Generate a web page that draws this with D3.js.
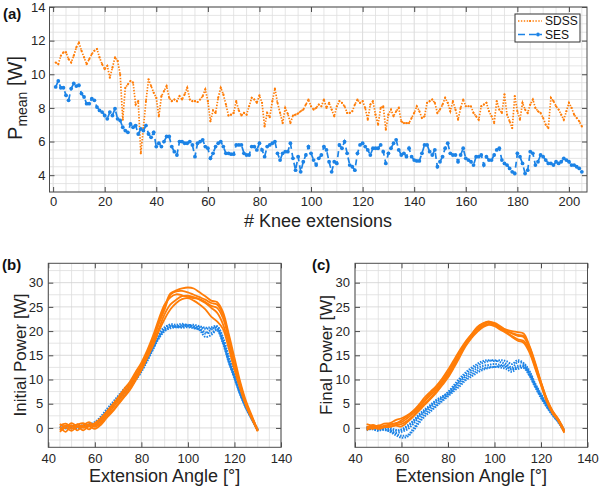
<!DOCTYPE html>
<html><head><meta charset="utf-8">
<script src="https://cdn.jsdelivr.net/npm/d3@7"></script>
<style>body{margin:0;background:#fff}svg{display:block;font-family:"Liberation Sans",Arial,sans-serif}</style>
</head><body><svg id="c" width="600" height="486"></svg>
<script>
// ---------- Panel (a) data ----------
const sdss = [10.7,10.6,11.1,11.3,11.3,10.9,10.7,11.1,11.6,11.9,11.4,11.0,10.6,10.9,11.2,11.4,11.5,11.0,10.6,10.3,
10.5,9.8,10.4,11.0,10.8,10.0,7.3,9.2,9.4,9.6,9.5,8.2,8.4,5.3,6.8,8.4,9.7,9.3,8.9,8.6,
7.5,8.7,9.0,9.3,8.6,8.4,8.5,8.4,8.7,8.5,8.8,9.2,8.5,8.4,8.4,8.35,8.5,8.7,9.1,8.4,
7.2,7.85,7.7,8.6,9.2,8.8,8.2,7.55,7.6,7.7,8.4,7.85,7.55,7.7,7.6,8.1,8.6,8.5,8.3,8.75,
8.3,6.9,7.7,7.45,8.4,9.15,8.3,7.7,7.1,8.0,7.65,7.1,7.55,7.6,7.67,7.8,7.9,8.2,8.5,8.1,
7.9,8.0,8.2,8.1,8.5,8.0,8.3,7.9,7.5,8.1,8.4,8.3,8.1,7.7,7.7,7.8,8.2,8.5,8.3,8.4,
8.0,7.3,8.2,8.4,7.6,7.0,8.0,8.1,6.7,7.6,7.9,7.5,7.8,8.0,7.2,7.1,7.1,7.1,7.4,7.7,
8.1,7.8,7.4,7.5,8.3,8.4,8.5,8.3,7.7,7.9,8.2,8.6,8.3,7.8,8.4,7.9,7.3,8.0,8.5,8.1,
8.1,8.1,7.7,7.5,7.3,8.1,8.2,8.3,7.8,7.5,7.1,8.4,7.9,7.7,8.8,7.6,7.2,6.8,8.7,7.8,
7.3,8.3,7.9,7.7,8.2,8.5,8.0,7.8,7.7,7.4,7.0,6.8,8.6,8.4,8.1,7.9,7.6,7.3,7.8,8.3,
8.0,7.6,7.4,7.2,6.9];
const ses = [9.25,9.6,9.2,9.2,8.75,8.45,9.15,9.45,9.3,9.35,8.85,8.65,8.25,8.25,8.55,8.45,8.05,7.85,7.75,7.55,
7.35,7.75,7.55,7.95,7.35,7.25,6.85,6.65,6.55,7.05,6.85,6.95,6.45,6.75,6.65,6.95,6.45,6.25,6.55,5.7,
5.9,5.7,6.0,6.3,6.3,5.7,5.4,5.2,6.0,6.0,5.9,5.9,6.0,5.8,5.1,5.9,6.0,6.1,5.7,5.6,
5.0,5.3,5.7,5.9,6.0,5.7,5.3,5.3,5.25,5.25,5.8,5.8,5.8,5.3,5.2,5.2,5.7,5.7,5.5,5.9,
5.5,5.1,5.7,5.8,5.9,6.0,5.3,4.9,5.3,5.4,5.4,5.9,5.0,4.3,5.1,4.2,4.8,5.2,5.7,5.3,
4.9,4.6,5.0,5.2,5.7,5.5,4.8,4.2,4.8,4.7,5.8,5.6,6.0,5.3,4.6,4.5,4.3,5.3,5.8,5.9,
5.7,5.5,5.2,5.6,5.6,5.6,5.8,5.4,4.7,5.3,5.6,5.9,6.1,5.5,5.2,5.3,5.1,5.6,5.1,4.9,
4.85,4.85,5.3,5.8,5.8,5.4,5.2,5.5,4.5,4.8,5.1,5.6,5.9,5.3,5.2,5.2,4.8,5.2,5.6,5.0,
4.9,4.8,4.6,5.1,5.1,5.2,4.6,5.1,4.9,4.9,5.2,5.5,5.6,4.9,4.7,4.6,4.4,4.2,4.1,5.3,
5.1,4.7,4.1,4.3,5.4,5.3,4.6,4.8,5.2,5.1,4.9,4.7,4.7,4.6,4.8,4.7,4.8,5.0,4.9,4.8,
4.6,4.6,4.5,4.4,4.2];
const aXTicks = [0,20,40,60,80,100,120,140,160,180,200];
const aYTicks = [4,6,8,10,12,14];
const legendLabels = ["SDSS","SES"];

// ---------- Panels (b),(c) data ----------
const angles = [45,47.5,50,52.5,55,57.5,60,62.5,65,67.5,70,72.5,75,77.5,80,82.5,85,87.5,90,92.5,95,97.5,100,102.5,105,107.5,110,112.5,115,117.5,120,122.5,125,127.5,130];
const initSDSS1 = [0.8,0.2,1.0,0.3,0.6,1.2,0.5,1.5,3.0,4.5,6.0,7.5,9.0,11.0,13.0,15.5,18.5,22,25,27.8,28.4,28.8,29.0,28.8,28.0,27.2,26.3,26.0,24.0,19.5,14.5,9.5,5.5,2.5,-0.5];
const initSDSS2 = [-0.5,0.5,-0.2,0.8,0.0,0.8,0.2,1.0,2.5,4.0,5.5,7.0,8.5,10.5,12.5,15.0,18.0,21.5,24.5,27.5,28.2,28.3,28.0,27.5,27.0,26.5,25.8,25.5,23.5,19.0,13.5,9.0,5.0,2.2,-0.6];
const initSDSS3 = [0.3,-0.8,0.6,-0.5,0.4,-0.3,0.8,1.3,2.3,3.5,5.0,6.5,8.0,10.0,12.0,14.5,17.5,20.5,23.5,25.5,26.5,27.2,27.3,27.0,26.5,25.8,24.8,23.8,21.5,17.5,12.5,8.5,4.8,2.0,-0.6];
const initSDSS4 = [-0.8,0.0,-0.6,0.2,-0.5,0.3,-0.2,0.6,2.0,3.3,4.8,6.3,7.8,9.8,12.0,14.5,17.0,20.0,22.5,24.5,25.8,26.6,26.8,26.3,25.5,24.5,23.0,22.0,20.5,16.5,12.0,8.0,4.5,1.8,-0.7];
const initSDSS5 = [0.5,0.9,0.2,0.7,1.0,0.4,1.0,2.0,3.3,4.8,6.3,8.0,9.5,11.5,13.5,16.0,19.0,22.5,25.5,27.0,27.6,27.4,27.0,26.8,26.6,26.0,25.2,24.8,22.8,18.5,13.5,8.8,5.0,2.2,-0.4];
const initSES1 = [0.0,0.2,0.1,0.3,0.5,0.6,0.9,1.8,3.2,4.6,6.0,7.3,8.6,10.2,12.0,14.2,16.5,18.8,20.3,21.0,21.0,21.2,21.3,21.0,20.8,20.5,20.5,20.6,18.0,14.0,10.5,7.0,4.2,1.8,-0.5];
const initSES2 = [0.3,0.0,0.4,0.2,0.6,0.8,1.2,2.3,3.8,5.2,6.6,8.0,9.2,10.8,12.5,14.8,17.2,19.5,20.8,21.2,20.8,21.0,21.0,20.7,20.3,19.5,20.3,20.9,18.5,14.5,11.0,7.2,4.3,1.9,-0.4];
const initSES3 = [-0.2,0.1,-0.1,0.1,0.3,0.4,0.6,1.5,2.8,4.2,5.6,7.0,8.3,9.8,11.6,13.8,16.2,18.5,20.0,20.6,20.8,20.7,20.8,20.6,20.2,18.8,19.2,20.2,17.5,13.6,10.2,6.8,4.0,1.7,-0.5];
const initSES4 = [0.1,0.3,0.2,0.5,0.4,0.7,1.0,2.0,3.5,5.0,6.3,7.6,8.9,10.5,12.3,14.5,16.8,19.0,20.6,21.4,21.3,21.5,21.2,21.3,21.0,20.7,20.8,21.0,18.8,14.8,11.2,7.4,4.4,2.0,-0.3];
const initSES5 = [0.2,-0.1,0.3,0.0,0.2,0.5,0.7,1.6,3.0,4.4,5.8,7.1,8.4,10.0,11.8,14.0,16.4,18.6,20.1,20.8,21.0,20.9,21.1,20.9,20.5,19.8,19.6,20.4,17.8,13.8,10.4,6.9,4.1,1.8,-0.5];
const finSDSS1 = [0.8,0.5,0.4,0.9,1.0,1.6,2.0,2.6,3.5,4.8,6.3,7.5,8.7,10.2,12.0,14.0,16.0,17.8,19.3,20.8,21.6,22.0,21.5,20.8,20.3,20.0,19.8,19.5,17.0,13.5,9.5,6.0,3.5,1.8,-0.5];
const finSDSS2 = [-0.3,0.3,0.0,0.5,0.6,1.0,1.2,2.0,3.0,4.2,5.5,6.8,8.0,9.5,11.2,13.2,15.3,17.3,19.0,20.4,21.3,21.8,21.7,21.0,20.2,19.5,19.0,18.8,16.5,13.0,9.2,5.8,3.3,1.6,-0.6];
const finSDSS3 = [0.3,-0.2,0.5,0.2,0.2,0.6,0.8,1.5,2.5,3.8,5.0,6.2,7.6,9.2,10.8,12.8,15.0,17.2,18.8,20.2,21.0,21.5,21.3,20.6,19.8,19.0,18.3,18.0,16.0,12.6,9.0,5.6,3.2,1.5,-0.8];
const finSDSS4 = [0.0,0.6,0.3,0.2,0.8,0.9,1.6,2.4,3.4,4.5,5.8,7.2,8.4,9.8,11.5,13.6,15.7,17.5,19.2,20.6,21.5,21.9,21.2,20.5,20.0,19.6,19.2,19.0,16.8,13.2,9.4,5.9,3.4,1.7,-0.6];
const finSDSS5 = [-0.5,0.1,-0.2,0.1,0.3,0.5,0.3,1.2,2.3,3.5,4.8,6.0,7.3,8.8,10.4,12.4,14.6,16.8,18.5,19.8,20.8,21.3,21.0,20.3,19.6,18.8,18.0,17.6,15.6,12.3,8.8,5.4,3.0,1.4,-1.0];
const finSES1 = [0.0,-0.3,-0.5,0.0,-0.3,-0.6,-0.3,0.5,1.5,2.8,3.8,4.8,5.8,6.5,7.3,8.5,9.8,11.0,12.0,12.8,13.4,13.8,14.0,13.6,13.2,12.5,13.6,13.2,11.5,9.0,6.8,4.8,3.0,1.5,-0.5];
const finSES2 = [-0.3,0.0,-0.2,-0.4,-0.7,-1.0,-0.8,-0.3,0.8,2.2,3.3,4.3,5.3,6.2,7.0,8.2,9.5,10.6,11.5,12.3,12.8,13.0,13.2,13.0,12.8,12.0,12.8,12.8,11.2,8.8,6.6,4.6,2.8,1.3,-0.6];
const finSES3 = [0.2,-0.1,0.0,-0.3,-0.5,-1.2,-1.6,-1.5,-0.2,1.5,2.8,3.8,4.8,5.8,6.8,7.9,9.0,10.2,11.0,11.8,12.3,12.5,12.6,12.5,12.2,11.6,12.5,12.6,11.0,8.6,6.4,4.4,2.7,1.2,-0.7];
const finSES4 = [-0.5,-0.2,-0.6,-0.3,-0.8,-1.5,-2.0,-1.8,-0.6,1.0,2.4,3.4,4.5,5.5,6.5,7.6,8.6,9.8,10.6,11.4,12.0,12.4,12.6,12.8,12.6,12.2,12.2,12.4,10.8,8.4,6.2,4.3,2.6,1.1,-0.8];
const finSES5 = [0.1,0.3,-0.1,0.2,0.0,-0.4,-0.5,0.2,1.2,2.5,3.6,4.6,5.6,6.4,7.4,8.8,10.2,11.4,12.4,13.2,13.8,14.0,13.8,14.0,13.8,13.2,14.0,13.4,11.8,9.2,7.0,5.0,3.2,1.6,-0.4];
const bcXTicks = [40,60,80,100,120,140];
const bcYTicks = [0,5,10,15,20,25,30];

const ORANGE = "#ff7d08", BLUE = "#1c83e6";
const GRID = "#dedede", GRIDMAJ = "#d2d2d2", AXC = "#4d4d4d", TXT = "#262626";
const svg = d3.select("#c");

function frame(g, x, y, xMinor, yMinor, xTicks, yTicks) {
  const [x0, x1] = x.range(), [y1, y0] = y.range();
  g.append("rect").attr("x", x0).attr("y", y0).attr("width", x1 - x0).attr("height", y1 - y0).attr("fill", "#fff");
  g.selectAll(".gx").data(xMinor).join("line").attr("x1", d => x(d)).attr("x2", d => x(d)).attr("y1", y0).attr("y2", y1)
    .attr("stroke", d => xTicks.includes(d) ? GRIDMAJ : GRID).attr("stroke-width", 0.8);
  g.selectAll(".gy").data(yMinor).join("line").attr("y1", d => y(d)).attr("y2", d => y(d)).attr("x1", x0).attr("x2", x1)
    .attr("stroke", d => yTicks.includes(d) ? GRIDMAJ : GRID).attr("stroke-width", 0.8);
}
function axes(g, x, y, xTicks, yTicks, padX, padY) {
  const [x0, x1] = x.range(), [y1, y0] = y.range();
  const style = a => { a.select(".domain").remove(); a.selectAll("line").attr("stroke", AXC);
    a.selectAll("text").attr("fill", TXT).attr("font-size", 13).attr("font-family", '"Liberation Sans",Arial,sans-serif'); };
  g.append("g").attr("transform", `translate(0,${y1})`).call(d3.axisBottom(x).tickValues(xTicks).tickSizeInner(-5).tickSizeOuter(0).tickPadding(padX)).call(style);
  g.append("g").attr("transform", `translate(0,${y0})`).call(d3.axisTop(x).tickValues(xTicks).tickSizeInner(-5).tickSizeOuter(0).tickFormat("")).call(style);
  g.append("g").attr("transform", `translate(${x0},0)`).call(d3.axisLeft(y).tickValues(yTicks).tickSizeInner(-5).tickSizeOuter(0).tickPadding(padY)).call(style);
  g.append("g").attr("transform", `translate(${x1},0)`).call(d3.axisRight(y).tickValues(yTicks).tickSizeInner(-5).tickSizeOuter(0).tickFormat("")).call(style);
  g.append("rect").attr("x", x0).attr("y", y0).attr("width", x1 - x0).attr("height", y1 - y0)
    .attr("fill", "none").attr("stroke", AXC).attr("stroke-width", 1);
}

// ---------- Panel (a) ----------
{
  const x = d3.scaleLinear().domain([-1.4, 207]).range([49.5, 587]);
  const y = d3.scaleLinear().domain([3, 14]).range([192, 7]);
  const g = svg.append("g");
  frame(g, x, y, d3.range(0, 206, 5), d3.range(3, 14.01, 0.5), aXTicks, aYTicks);
  g.append("clipPath").attr("id", "ca").append("rect").attr("x", 49.5).attr("y", 7).attr("width", 537.5).attr("height", 185);
  const line = d3.line().x((d, i) => x(i + 1)).y(d => y(d));
  const dg = g.append("g").attr("clip-path", "url(#ca)");
  dg.append("path").datum(sdss).attr("d", line).attr("fill", "none").attr("stroke", ORANGE).attr("stroke-width", 1.7).attr("stroke-dasharray", "1.4,1.5");
  dg.selectAll(".mo").data(sdss).join("circle").attr("cx", (d, i) => x(i + 1)).attr("cy", d => y(d)).attr("r", 1.1).attr("fill", ORANGE);
  dg.append("path").datum(ses).attr("d", line).attr("fill", "none").attr("stroke", BLUE).attr("stroke-width", 1.7).attr("stroke-dasharray", "6,4");
  dg.selectAll(".mb").data(ses).join("circle").attr("cx", (d, i) => x(i + 1)).attr("cy", d => y(d)).attr("r", 1.9).attr("fill", BLUE);
  axes(g, x, y, aXTicks, aYTicks, 5, 4);
  // legend
  const lg = g.append("g");
  lg.append("rect").attr("x", 515).attr("y", 14).attr("width", 65).attr("height", 28).attr("fill", "#fff").attr("stroke", "#333").attr("stroke-width", 1);
  lg.append("line").attr("x1", 518).attr("x2", 542).attr("y1", 21).attr("y2", 21).attr("stroke", ORANGE).attr("stroke-width", 1.7).attr("stroke-dasharray", "1.4,1.5");
  lg.append("circle").attr("cx", 530).attr("cy", 21).attr("r", 1.1).attr("fill", ORANGE);
  lg.append("line").attr("x1", 518).attr("x2", 542).attr("y1", 34.5).attr("y2", 34.5).attr("stroke", BLUE).attr("stroke-width", 1.7).attr("stroke-dasharray", "7,4");
  lg.append("circle").attr("cx", 538).attr("cy", 34.5).attr("r", 1.9).attr("fill", BLUE);
  lg.selectAll("text").data(legendLabels).join("text").attr("x", 545).attr("y", (d, i) => 21 + i * 13.5).attr("dy", "0.35em")
    .attr("font-size", 12).attr("fill", "#111").text(d => d);
  // labels
  svg.append("text").attr("x", 318).attr("y", 227).attr("text-anchor", "middle").attr("font-size", 18).attr("fill", "#222").text("# Knee extensions");
  const yl = svg.append("text").attr("transform", "translate(22,98) rotate(-90)").attr("text-anchor", "middle").attr("fill", "#222").attr("font-size", 20);
  yl.append("tspan").text("P");
  yl.append("tspan").attr("font-size", 14).attr("dy", 5).text("mean");
  yl.append("tspan").attr("dy", -5).text(" [W]");
  svg.append("text").attr("x", 3).attr("y", 19).attr("font-size", 15).attr("font-weight", "bold").attr("fill", "#111").text("(a)");
}

// ---------- Panels (b),(c) ----------
function anglePanel(xr, label, tag, tagX, sdssCurves, sesCurves, ylabX) {
  const x = d3.scaleLinear().domain([40, 140]).range(xr);
  const y = d3.scaleLinear().domain([-4, 34]).range([447.3, 263.3]);
  const g = svg.append("g");
  frame(g, x, y, d3.range(40, 141, 5), d3.range(-2.5, 33, 2.5), bcXTicks, bcYTicks);
  const line = d3.line().x((d, i) => x(angles[i])).y(d => y(d)).curve(d3.curveCatmullRom);
  sesCurves.forEach(c => g.append("path").datum(c).attr("d", line).attr("fill", "none").attr("stroke", BLUE).attr("stroke-width", 2).attr("stroke-dasharray", "1.5,1.2"));
  sdssCurves.forEach(c => g.append("path").datum(c).attr("d", line).attr("fill", "none").attr("stroke", ORANGE).attr("stroke-width", 1.8));
  axes(g, x, y, bcXTicks, bcYTicks, 6, 5);
  svg.append("text").attr("x", (xr[0] + xr[1]) / 2).attr("y", 482).attr("text-anchor", "middle").attr("font-size", 18).attr("fill", "#222").text("Extension Angle [°]");
  svg.append("text").attr("transform", `translate(${ylabX},355) rotate(-90)`).attr("text-anchor", "middle").attr("font-size", 17).attr("fill", "#222").text(label);
  svg.append("text").attr("x", tagX).attr("y", 270).attr("font-size", 15).attr("font-weight", "bold").attr("fill", "#111").text(tag);
}
anglePanel([48.3, 281], "Initial Power [W]", "(b)", 2, [initSDSS1, initSDSS2, initSDSS3, initSDSS4, initSDSS5], [initSES1, initSES2, initSES3, initSES4, initSES5], 26);
anglePanel([355, 587.5], "Final Power [W]", "(c)", 312, [finSDSS1, finSDSS2, finSDSS3, finSDSS4, finSDSS5], [finSES1, finSES2, finSES3, finSES4, finSES5], 332);
</script></body></html>
